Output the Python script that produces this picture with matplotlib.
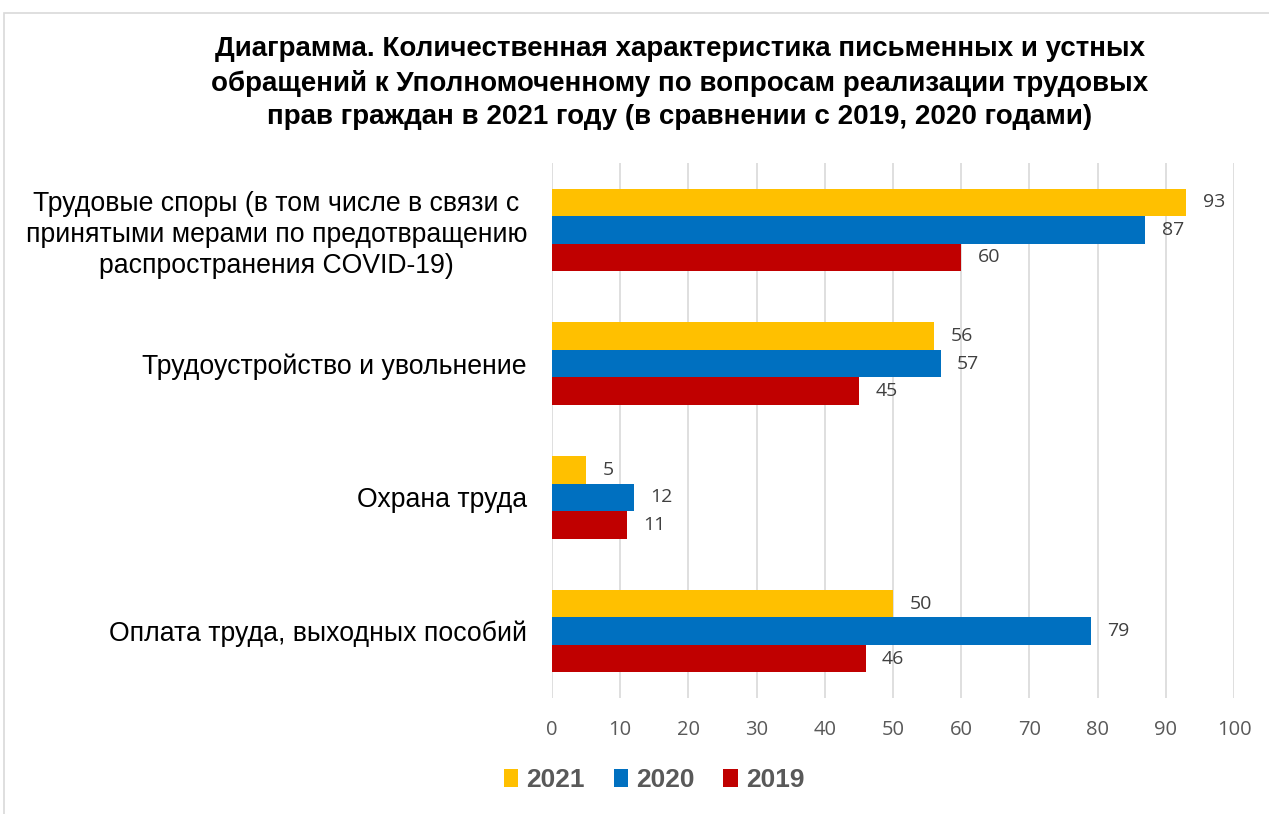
import matplotlib
matplotlib.use("Agg")
import matplotlib.pyplot as plt
from matplotlib.patches import Rectangle
import numpy as np

categories = [
    "Трудовые споры (в том числе в связи с\nпринятыми мерами по предотвращению\nраспространения COVID-19)",
    "Трудоустройство и увольнение",
    "Охрана труда",
    "Оплата труда, выходных пособий",
]
years = ["2021", "2020", "2019"]
values_2021 = [93, 56, 5, 50]
values_2020 = [87, 57, 12, 79]
values_2019 = [60, 45, 11, 46]
colors = ["#FFC000", "#0070C0", "#C00000"]
x_ticks = [0, 10, 20, 30, 40, 50, 60, 70, 80, 90, 100]

title = ("Диаграмма. Количественная характеристика письменных и устных\n"
         "обращений к Уполномоченному по вопросам реализации трудовых\n"
         "прав граждан в 2021 году (в сравнении с 2019, 2020 годами)")

num_font = ["Open Sans", "DejaVu Sans"]
text_font = ["Liberation Sans", "DejaVu Sans"]

fig = plt.figure(figsize=(12.69, 8.14), dpi=100)

# light frame around the chart area
fig.patches.append(Rectangle((4 / 1269, -0.1), 1.2, 1 - 13 / 814 + 0.1,
                             transform=fig.transFigure, fill=False,
                             edgecolor="#d9d9d9", linewidth=1.2))

ax = fig.add_axes([552 / 1269, 1 - 698 / 814, (1234 - 552) / 1269, (698 - 163) / 814])

y = np.arange(len(categories))
h = 0.205
series = [values_2021, values_2020, values_2019]
offsets = [-h, 0, h]
for vals, off, col, lab in zip(series, offsets, colors, years):
    bars = ax.barh(y + off, vals, height=h, color=col, label=lab)
    for b, v in zip(bars, vals):
        ax.text(v + 2.4, b.get_y() + b.get_height() / 2, f"{v}",
                va="center", ha="left", fontsize=14, color="#404040",
                family=num_font)

ax.set_ylim(len(categories) - 0.5, -0.5)
ax.set_xlim(0, 100)
ax.set_xticks(x_ticks)
ax.set_xticklabels([str(t) for t in x_ticks], family=num_font, fontsize=14.5,
                   color="#595959")
ax.tick_params(axis="x", length=0, pad=16)
ax.set_yticks(y)
ax.set_yticklabels(categories, family=text_font, fontsize=19.2, color="#000000",
                   linespacing=1.25, multialignment="center")
ax.tick_params(axis="y", length=0, pad=18)
ax.grid(axis="x", color="#d9d9d9", linewidth=1.2)
ax.set_axisbelow(True)
for s in ax.spines.values():
    s.set_visible(False)

fig.text(680 / 1269, 1 - 83 / 814, title, ha="center", va="center",
         fontsize=20, fontweight="bold", family=text_font, linespacing=1.38)

leg = fig.legend(loc="center", bbox_to_anchor=(654 / 1269, 1 - 780 / 814),
                 ncol=3, frameon=False, handlelength=0.55, handleheight=0.7,
                 handletextpad=0.3, columnspacing=1.1,
                 prop={"family": text_font, "size": 19, "weight": "bold"})
for t in leg.get_texts():
    t.set_color("#595959")

fig.savefig("out.png", dpi=100)
